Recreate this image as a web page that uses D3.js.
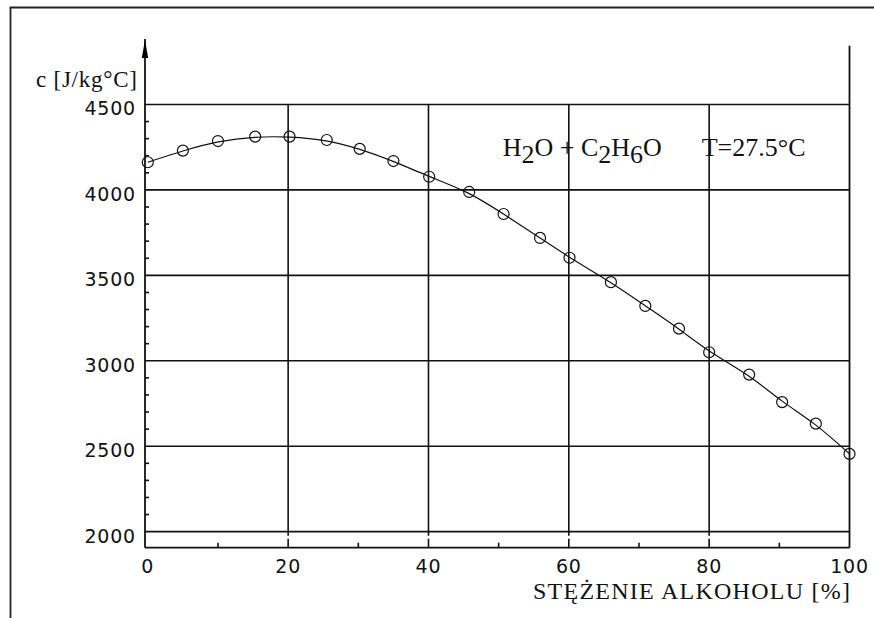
<!DOCTYPE html>
<html>
<head>
<meta charset="utf-8">
<script src="https://cdn.jsdelivr.net/npm/d3@7"></script>
<style>
  body { margin: 0; background: #fff; }
  svg { display: block; }
  .num { font-family: "DejaVu Sans", sans-serif; font-size: 19px; fill: #111; }
  .lbl { font-family: "Liberation Serif", serif; fill: #111; }
</style>
</head>
<body>
<div id="chart"></div>
<script>
// concentration of alcohol [%] and specific heat c [J/kg°C]
const stezenie = [0, 5, 10, 15.3, 20.2, 25.5, 30.2, 35, 40.1, 45.8, 50.7, 55.9,
  60.1, 66, 70.9, 75.7, 80, 85.7, 90.4, 95.2, 100];
const cieplo = [4162, 4230, 4286, 4312, 4312, 4292, 4240, 4169, 4077, 3988, 3859, 3719,
  3603, 3460, 3321, 3188, 3050, 2919, 2758, 2632, 2455];

const xMajor = [0, 20, 40, 60, 80, 100];
const xMinor = [10, 30, 50, 70, 90];
const yMajor = [2000, 2500, 3000, 3500, 4000, 4500];
const yMinor = d3.range(2100, 4500, 100).filter(v => v % 500 !== 0);

const width = 874, height = 618;

const svg = d3.select('#chart').append('svg')
  .attr('width', width)
  .attr('height', height);

// outer frame (left + top)
svg.append('path')
  .attr('d', 'M10.5,' + height + 'V7.5H' + width)
  .attr('fill', 'none')
  .attr('stroke', '#222')
  .attr('stroke-width', 1.8);

const x = d3.scaleLinear().domain([-0.4, 100]).range([145, 849.5]);
const y = d3.scaleLinear().domain([1906, 4844]).range([547.7, 45.7]);

const x0 = x.range()[0], x1 = x.range()[1];
const yBot = y.range()[0], yTop = y.range()[1];
const g = svg.append('g');

// horizontal grid
g.selectAll('.hgrid')
  .data(yMajor)
  .enter()
  .append('line')
  .attr('x1', x0).attr('x2', x1)
  .attr('y1', d => y(d)).attr('y2', d => y(d))
  .attr('stroke', '#111').attr('stroke-width', 1.6);

// vertical grid (20..80), from 4500 line to 2000 line
g.selectAll('.vgrid')
  .data(xMajor.slice(1, -1))
  .enter()
  .append('line')
  .attr('x1', d => x(d)).attr('x2', d => x(d))
  .attr('y1', y(4500)).attr('y2', y(2000) + 4)
  .attr('stroke', '#111').attr('stroke-width', 1.6);

// major x ticks below 2000 line
g.selectAll('.xmaj')
  .data(xMajor.slice(1, -1))
  .enter()
  .append('line')
  .attr('x1', d => x(d)).attr('x2', d => x(d))
  .attr('y1', yBot).attr('y2', yBot - 9)
  .attr('stroke', '#111').attr('stroke-width', 1.6);

// minor x ticks
g.selectAll('.xmin')
  .data(xMinor)
  .enter()
  .append('line')
  .attr('x1', d => x(d)).attr('x2', d => x(d))
  .attr('y1', yBot).attr('y2', yBot - 5)
  .attr('stroke', '#111').attr('stroke-width', 1.6);

// minor y ticks
g.selectAll('.ymin')
  .data(yMinor)
  .enter()
  .append('line')
  .attr('x1', x0).attr('x2', x0 + 4)
  .attr('y1', d => y(d)).attr('y2', d => y(d))
  .attr('stroke', '#111').attr('stroke-width', 1.6);

// right border
g.append('line')
  .attr('x1', x1).attr('x2', x1)
  .attr('y1', yTop).attr('y2', yBot)
  .attr('stroke', '#111').attr('stroke-width', 1.8);

// bottom axis
g.append('line')
  .attr('x1', x0).attr('x2', x1)
  .attr('y1', yBot).attr('y2', yBot)
  .attr('stroke', '#111').attr('stroke-width', 1.8);

// y axis with arrow
const arrowTip = y(4883);
g.append('line')
  .attr('x1', x0).attr('x2', x0)
  .attr('y1', arrowTip).attr('y2', yBot)
  .attr('stroke', '#111').attr('stroke-width', 1.8);
g.append('path')
  .attr('d', 'M' + x0 + ',' + (arrowTip + 1) + 'L' + (x0 - 3.2) + ',' + (arrowTip + 19) +
    'L' + (x0 + 3.2) + ',' + (arrowTip + 19) + 'Z')
  .attr('fill', '#000');

// tick labels
g.selectAll('.ylab')
  .data(yMajor)
  .enter()
  .append('text')
  .attr('class', 'num')
  .attr('x', x0 - 9)
  .attr('y', d => y(d) + 11)
  .attr('text-anchor', 'end')
  .attr('letter-spacing', 0.8)
  .text(d => d);

g.selectAll('.xlab')
  .data(xMajor)
  .enter()
  .append('text')
  .attr('class', 'num')
  .attr('x', d => x(d))
  .attr('y', 573)
  .attr('text-anchor', 'middle')
  .attr('letter-spacing', 0.8)
  .text(d => d);

// axis titles
g.append('text')
  .attr('class', 'lbl')
  .attr('x', 36)
  .attr('y', 87)
  .attr('font-size', 23)
  .attr('textLength', 101)
  .attr('lengthAdjust', 'spacing')
  .text('c [J/kg°C]');

g.append('text')
  .attr('class', 'lbl')
  .attr('x', 533)
  .attr('y', 599)
  .attr('font-size', 24)
  .attr('textLength', 317)
  .attr('lengthAdjust', 'spacing')
  .text('STĘŻENIE ALKOHOLU [%]');

// annotation
const ann = g.append('text')
  .attr('class', 'lbl')
  .attr('x', 502.7)
  .attr('y', 155.7)
  .attr('font-size', 26);
const parts = [['H', 0], ['2', 7.7], ['O + C', -7.7], ['2', 7.7], ['H', -7.7], ['6', 7.7], ['O', -7.7]];
parts.forEach(p => ann.append('tspan').attr('dy', p[1]).text(p[0]));

g.append('text')
  .attr('class', 'lbl')
  .attr('x', 701.7)
  .attr('y', 155.7)
  .attr('font-size', 26)
  .text('T=27.5°C');

// curve + points
const pts = stezenie.map((v, i) => ({ s: v, c: cieplo[i] }));
const line = d3.line()
  .x(d => x(d.s))
  .y(d => y(d.c))
  .curve(d3.curveBasis);

g.append('path')
  .datum(pts)
  .attr('fill', 'none')
  .attr('stroke', '#111')
  .attr('stroke-width', 1.2)
  .attr('d', line);

g.selectAll('.pt')
  .data(pts)
  .enter()
  .append('circle')
  .attr('cx', d => x(d.s))
  .attr('cy', d => y(d.c))
  .attr('r', 5.5)
  .attr('fill', 'none')
  .attr('stroke', '#111')
  .attr('stroke-width', 1.2);
</script>
</body>
</html>
